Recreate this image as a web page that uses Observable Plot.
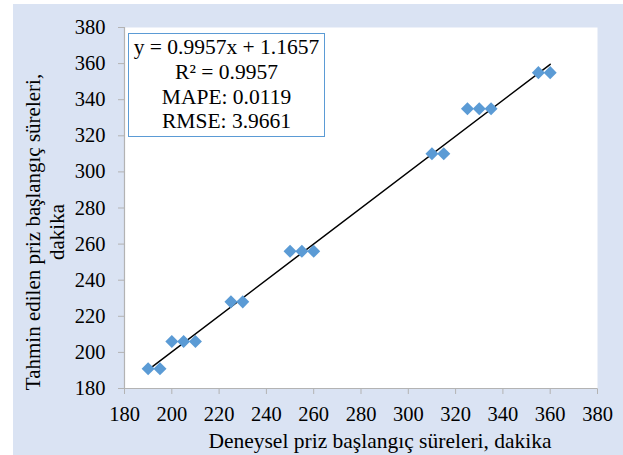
<!DOCTYPE html>
<html>
<head>
<meta charset="utf-8">
<script src="https://cdn.jsdelivr.net/npm/d3@7"></script>
<script src="https://cdn.jsdelivr.net/npm/@observablehq/plot@0.6"></script>
<style>
  body { margin: 0; background: #ffffff; }
  #wrap { position: relative; width: 623px; height: 455px; overflow: hidden; font-family: "Liberation Serif", "Times New Roman", serif; }
  #bg { position: absolute; left: 13px; top: 4px; right: 0; bottom: 0; background: #dae3f3; }
  #chart { position: absolute; left: 0; top: 0; }
  #box { position: absolute; left: 128px; top: 33px; width: 195px; height: 101px; border: 1.5px solid #5b9bd5; background: #ffffff; text-align: center; font-size: 21.5px; line-height: 24.8px; padding-top: 1px; color: #000; white-space: nowrap; }
  #chart svg g[aria-label^="x-axis"] line, #chart svg g[aria-label^="y-axis"] line,
  #chart svg g[aria-label$="axis tick"] path, #chart svg g[aria-label$="axis tick"] { stroke: #b3b3b3; }
</style>
</head>
<body>
<div id="wrap">
  <div id="bg"></div>
  <div id="chart"></div>
  <div id="box"></div>
</div>
<script>
// Data
const experimental = [190, 195, 200, 205, 210, 225, 230, 250, 255, 260, 310, 315, 325, 330, 335, 355, 360];
const predicted    = [191, 191, 206, 206, 206, 228, 228, 256, 256, 256, 310, 310, 335, 335, 335, 355, 355];
const xTicks = [180, 200, 220, 240, 260, 280, 300, 320, 340, 360, 380];
const yTicks = [180, 200, 220, 240, 260, 280, 300, 320, 340, 360, 380];
const trendSlope = 0.9957;
const trendIntercept = 1.1657;
const trendX = [190, 360];
const statsLines = ["y = 0.9957x + 1.1657", "R² = 0.9957", "MAPE: 0.0119", "RMSE: 3.9661"];
const xTitle = "Deneysel priz başlangıç süreleri, dakika";
const yTitle1 = "Tahmin edilen priz başlangıç süreleri,";
const yTitle2 = "dakika";

const points = experimental.map((x, i) => ({x, y: predicted[i]}));
const trend = trendX.map(x => ({x, y: trendSlope * x + trendIntercept}));

const gray = "#b3b3b3";
const font = '"Liberation Serif", "Times New Roman", serif';

const plot = Plot.plot({
  width: 623,
  height: 455,
  marginLeft: 124,
  marginRight: 26,
  marginTop: 27,
  marginBottom: 67,
  style: { background: "transparent", fontFamily: font, fontSize: "20.5px", color: "#000", overflow: "visible" },
  x: { domain: [180, 380], ticks: xTicks, tickSize: 6, tickPadding: 12, label: null, tickFormat: d => String(d) },
  y: { domain: [180, 380], ticks: yTicks, tickSize: 6, tickPadding: 13, label: null, tickFormat: d => String(d) },
  marks: [
    Plot.frame({ fill: "#ffffff", stroke: "none" }),
    Plot.ruleX([180], { stroke: gray, strokeWidth: 1.2 }),
    Plot.ruleY([180], { stroke: gray, strokeWidth: 1.2 }),
    Plot.line(trend, { x: "x", y: "y", stroke: "#000", strokeWidth: 1.5 }),
    Plot.dot(points, { x: "x", y: "y", symbol: "square", rotate: 45, r: 5.2, fill: "#5b9bd5", stroke: "none" }),
    Plot.text([yTitle1], { text: d => d, frameAnchor: "left", dx: -91.5, dy: 24, rotate: -90, textAnchor: "middle", lineAnchor: "middle", fontSize: 21, fill: "#000" }),
    Plot.text([yTitle2], { text: d => d, frameAnchor: "left", dx: -67.5, dy: 24, rotate: -90, textAnchor: "middle", lineAnchor: "middle", fontSize: 21, fill: "#000" }),
    Plot.text([xTitle], { text: d => d, frameAnchor: "bottom", dx: 19, dy: 59, textAnchor: "middle", lineAnchor: "bottom", fontSize: 21.5, fill: "#000" })
  ]
});
document.getElementById("chart").appendChild(plot);

const box = document.getElementById("box");
statsLines.forEach(t => {
  const d = document.createElement("div");
  d.textContent = t;
  box.appendChild(d);
});
</script>
</body>
</html>
